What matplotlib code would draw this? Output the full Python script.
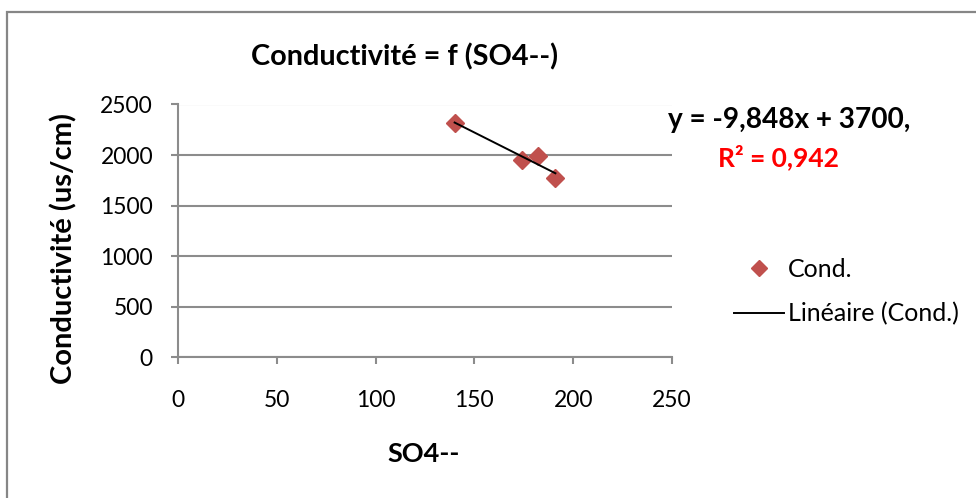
import matplotlib.pyplot as plt
from matplotlib.lines import Line2D
from matplotlib.patches import Rectangle

# SO4-- (mg/l) et conductivité (us/cm)
so4 = [140, 174, 182, 191]
cond = [2320, 1950, 1990, 1775]

# droite de tendance affichée
pente = -9.848
ordonnee = 3700
r2 = 0.942

x_ticks = [0, 50, 100, 150, 200, 250]
y_ticks = [0, 500, 1000, 1500, 2000, 2500]

plt.rcParams['font.family'] = ['Lato', 'DejaVu Sans']

fig = plt.figure(figsize=(9.76, 4.98), dpi=100)
W, H = 976, 498

# cadre du graphique
fig.patches.append(Rectangle((7 / W, -0.1), 1.2, 1 - 12 / H + 0.1,
                             transform=fig.transFigure, fill=False,
                             edgecolor='#868686', linewidth=1.6))

ax = fig.add_axes([178 / W, 1 - 357 / H, 494 / W, 252.5 / H])
ax.set_xlim(0, 250)
ax.set_ylim(0, 2500)
ax.set_xticks(x_ticks)
ax.set_yticks(y_ticks)
ax.yaxis.grid(True, color='#8c8c8c', linewidth=1.5)
ax.set_axisbelow(True)
for s in ['top', 'right']:
    ax.spines[s].set_visible(False)
for s in ['left', 'bottom']:
    ax.spines[s].set_color('#8c8c8c')
    ax.spines[s].set_linewidth(1.5)
ax.tick_params(axis='both', colors='#8c8c8c', width=1.5, length=5,
               labelcolor='black', labelsize=16.5)
ax.tick_params(axis='x', pad=19)
ax.tick_params(axis='y', pad=13)

ax.plot(so4, cond, linestyle='none', marker='D', markersize=9,
        color='#C0504D', zorder=3)
xs = [min(so4), max(so4)]
ax.plot(xs, [pente * x + ordonnee for x in xs], color='black',
        linewidth=1.4, zorder=4)

ax.set_xlabel('SO4--', fontsize=19.5, fontweight='bold')
ax.xaxis.set_label_coords((424 - 178) / 494, (357 - 454) / 252.5)
ax.xaxis.label.set_va('center')
ax.set_ylabel('Conductivité (us/cm)', fontsize=21, fontweight='bold')
ax.yaxis.set_label_coords((64 - 178) / 494, (357 - 248) / 252.5)
ax.yaxis.label.set_va('center')

fig.text(405 / W, 1 - 57 / H, 'Conductivité = f (SO4--)', fontsize=20.8,
         fontweight='bold', ha='center', va='center')

eq = 'y = {:,.3f}x + {},'.format(pente, ordonnee).replace('.', ',')
fig.text(668 / W, 1 - 120 / H, eq, fontsize=20.2, fontweight='bold',
         ha='left', va='center')
fig.text(718 / W, 1 - 157 / H, 'R² = {}'.format(r2).replace('.', ','),
         fontsize=19, fontweight='bold', color='#FF0000', ha='left',
         va='center')

handles = [Line2D([], [], linestyle='none', marker='D', markersize=8,
                  color='#C0504D'),
           Line2D([], [], color='black', linewidth=1.4)]
fig.legend(handles, ['Cond.', 'Linéaire (Cond.)'], loc='center left',
           bbox_to_anchor=(734 / W, 1 - 292 / H), frameon=False,
           fontsize=18, handlelength=2.0, handletextpad=0.15,
           labelspacing=0.85, borderaxespad=0, borderpad=0)

fig.savefig('out.png', dpi=100)
